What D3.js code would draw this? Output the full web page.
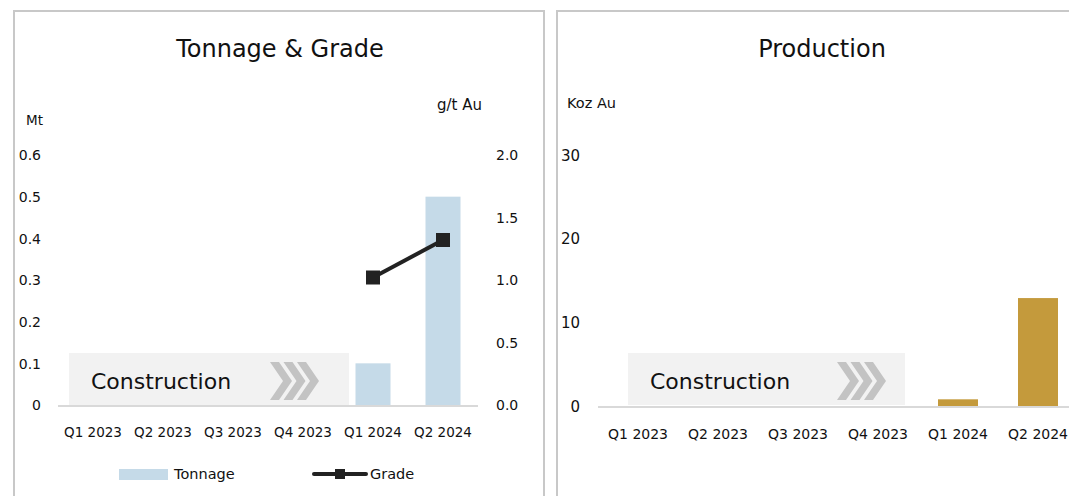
<!DOCTYPE html>
<html>
<head>
<meta charset="utf-8">
<script src="https://cdn.jsdelivr.net/npm/d3@7"></script>
<style>
  body { margin: 0; background: #fff; }
  text { font-family: "DejaVu Sans", sans-serif; fill: #111; }
</style>
</head>
<body>
<script>
/* Data */
var quarters = ["Q1 2023", "Q2 2023", "Q3 2023", "Q4 2023", "Q1 2024", "Q2 2024"];
var tonnage = [null, null, null, null, 0.1, 0.5];      // Mt
var grade = [null, null, null, null, 1.02, 1.32];      // g/t Au
var production = [null, null, null, null, 0.8, 12.9];  // Koz Au
var tonnageTicks = [0, 0.1, 0.2, 0.3, 0.4, 0.5, 0.6];
var gradeTicks = [0, 0.5, 1.0, 1.5, 2.0];
var productionTicks = [0, 10, 20, 30];

var width = 1069, height = 496;
var font = "DejaVu Sans, sans-serif";
var svg = d3.select("body").append("svg")
    .attr("width", width)
    .attr("height", height);

/* panel borders */
svg.append("rect").attr("x", 14).attr("y", 11).attr("width", 530).attr("height", 500)
    .attr("fill", "none").attr("stroke", "#c8c8c8").attr("stroke-width", 2);
svg.append("rect").attr("x", 557).attr("y", 11).attr("width", 530).attr("height", 500)
    .attr("fill", "none").attr("stroke", "#c8c8c8").attr("stroke-width", 2);

/* draws the grey "Construction" banner with chevrons */
function construction(g, x0, x1, chevX) {
    g.append("rect").attr("x", x0).attr("y", 353).attr("width", x1 - x0).attr("height", 52)
        .attr("fill", "#f2f2f2");
    g.append("text").attr("x", x0 + 22).attr("y", 389)
        .attr("font-size", 22).text("Construction");
    [0, 1, 2].forEach(function(i) {
        var cx = chevX + i * 13.5;
        g.append("polygon")
            .attr("points", [[cx, 362], [cx + 9, 362], [cx + 22, 381], [cx + 9, 400], [cx, 400], [cx + 13, 381]].join(" "))
            .attr("fill", "#c3c3c3");
    });
}

/* ---------- Tonnage & Grade ---------- */
var x1 = d3.scaleBand().domain(quarters).range([58, 478]).paddingInner(0.5).paddingOuter(0.25);
var yT = d3.scaleLinear().domain([0, 0.6]).range([405, 155]);
var yG = d3.scaleLinear().domain([0, 2.0]).range([405, 155]);

var left = svg.append("g");
left.append("text").attr("x", 280).attr("y", 57).attr("text-anchor", "middle")
    .attr("font-size", 24).text("Tonnage & Grade");
left.append("text").attr("x", 26).attr("y", 125).attr("font-size", 13.5).text("Mt");
left.append("text").attr("x", 437).attr("y", 110).attr("font-size", 15).text("g/t Au");

construction(left, 69, 349, 270);

left.selectAll("rect.bar").data(quarters.map(function(q, i) { return {q: q, v: tonnage[i]}; })
        .filter(function(d) { return d.v != null; }))
    .enter().append("rect").attr("class", "bar")
    .attr("x", function(d) { return x1(d.q); })
    .attr("width", x1.bandwidth())
    .attr("y", function(d) { return yT(d.v); })
    .attr("height", function(d) { return yT(0) - yT(d.v); })
    .attr("fill", "#c5dae8");

left.append("line").attr("x1", 58).attr("x2", 478).attr("y1", 406).attr("y2", 406)
    .attr("stroke", "#d9d9d9").attr("stroke-width", 2);

var gradePts = quarters.map(function(q, i) { return {q: q, v: grade[i]}; })
    .filter(function(d) { return d.v != null; });
left.append("path").datum(gradePts)
    .attr("d", d3.line().x(function(d) { return x1(d.q) + x1.bandwidth() / 2; })
        .y(function(d) { return yG(d.v); }))
    .attr("fill", "none").attr("stroke", "#222").attr("stroke-width", 4);
left.selectAll("rect.mk").data(gradePts).enter().append("rect").attr("class", "mk")
    .attr("x", function(d) { return x1(d.q) + x1.bandwidth() / 2 - 7; })
    .attr("y", function(d) { return yG(d.v) - 7; })
    .attr("width", 14).attr("height", 14).attr("fill", "#222");

var axL = left.append("g").attr("transform", "translate(41,0)")
    .call(d3.axisLeft(yT).tickValues(tonnageTicks).tickSize(0).tickPadding(0)
        .tickFormat(function(d) { return d === 0 ? "0" : d3.format(".1f")(d); }));
var axR = left.append("g").attr("transform", "translate(496,0)")
    .call(d3.axisRight(yG).tickValues(gradeTicks).tickSize(0).tickPadding(0)
        .tickFormat(d3.format(".1f")));
var axB = left.append("g").attr("transform", "translate(0,437)")
    .call(d3.axisBottom(x1).tickSize(0).tickPadding(0));
[axL, axR, axB].forEach(function(a) {
    a.select(".domain").remove();
    a.selectAll("text").attr("font-family", font).attr("fill", "#111");
});
axL.selectAll("text").attr("font-size", 14).attr("dy", "0.35em");
axR.selectAll("text").attr("font-size", 14).attr("dy", "0.35em");
axB.selectAll("text").attr("font-size", 13.5).attr("dy", "0");

/* legend */
left.append("rect").attr("x", 119).attr("y", 469).attr("width", 49).attr("height", 11).attr("fill", "#c5dae8");
left.append("text").attr("x", 174).attr("y", 479).attr("font-size", 14.5).text("Tonnage");
left.append("line").attr("x1", 314).attr("x2", 366).attr("y1", 474).attr("y2", 474)
    .attr("stroke", "#222").attr("stroke-width", 4).attr("stroke-linecap", "round");
left.append("rect").attr("x", 335).attr("y", 469).attr("width", 10).attr("height", 10).attr("fill", "#222");
left.append("text").attr("x", 370).attr("y", 479).attr("font-size", 14.5).text("Grade");

/* ---------- Production ---------- */
var x2 = d3.scaleBand().domain(quarters).range([598, 1078]).paddingInner(0.5).paddingOuter(0.25);
var yP = d3.scaleLinear().domain([0, 30]).range([406, 155]);

var right = svg.append("g");
right.append("text").attr("x", 822).attr("y", 57).attr("text-anchor", "middle")
    .attr("font-size", 24).text("Production");
right.append("text").attr("x", 567).attr("y", 108).attr("font-size", 14.5).text("Koz Au");

construction(right, 628, 905, 837);

right.selectAll("rect.bar").data(quarters.map(function(q, i) { return {q: q, v: production[i]}; })
        .filter(function(d) { return d.v != null; }))
    .enter().append("rect").attr("class", "bar")
    .attr("x", function(d) { return x2(d.q); })
    .attr("width", x2.bandwidth())
    .attr("y", function(d) { return yP(d.v); })
    .attr("height", function(d) { return yP(0) - yP(d.v); })
    .attr("fill", "#c49a3c");

right.append("line").attr("x1", 598).attr("x2", 1078).attr("y1", 407).attr("y2", 407)
    .attr("stroke", "#d9d9d9").attr("stroke-width", 2);

var axP = right.append("g").attr("transform", "translate(580,0)")
    .call(d3.axisLeft(yP).tickValues(productionTicks).tickSize(0).tickPadding(0));
var axPB = right.append("g").attr("transform", "translate(0,439)")
    .call(d3.axisBottom(x2).tickSize(0).tickPadding(0));
[axP, axPB].forEach(function(a) {
    a.select(".domain").remove();
    a.selectAll("text").attr("fill", "#111");
});
axP.selectAll("text").attr("font-family", "Liberation Sans, Arial, sans-serif")
    .attr("font-size", 15).attr("dy", "0.35em");
axPB.selectAll("text").attr("font-family", font).attr("font-size", 14).attr("dy", "0");
</script>
</body>
</html>
